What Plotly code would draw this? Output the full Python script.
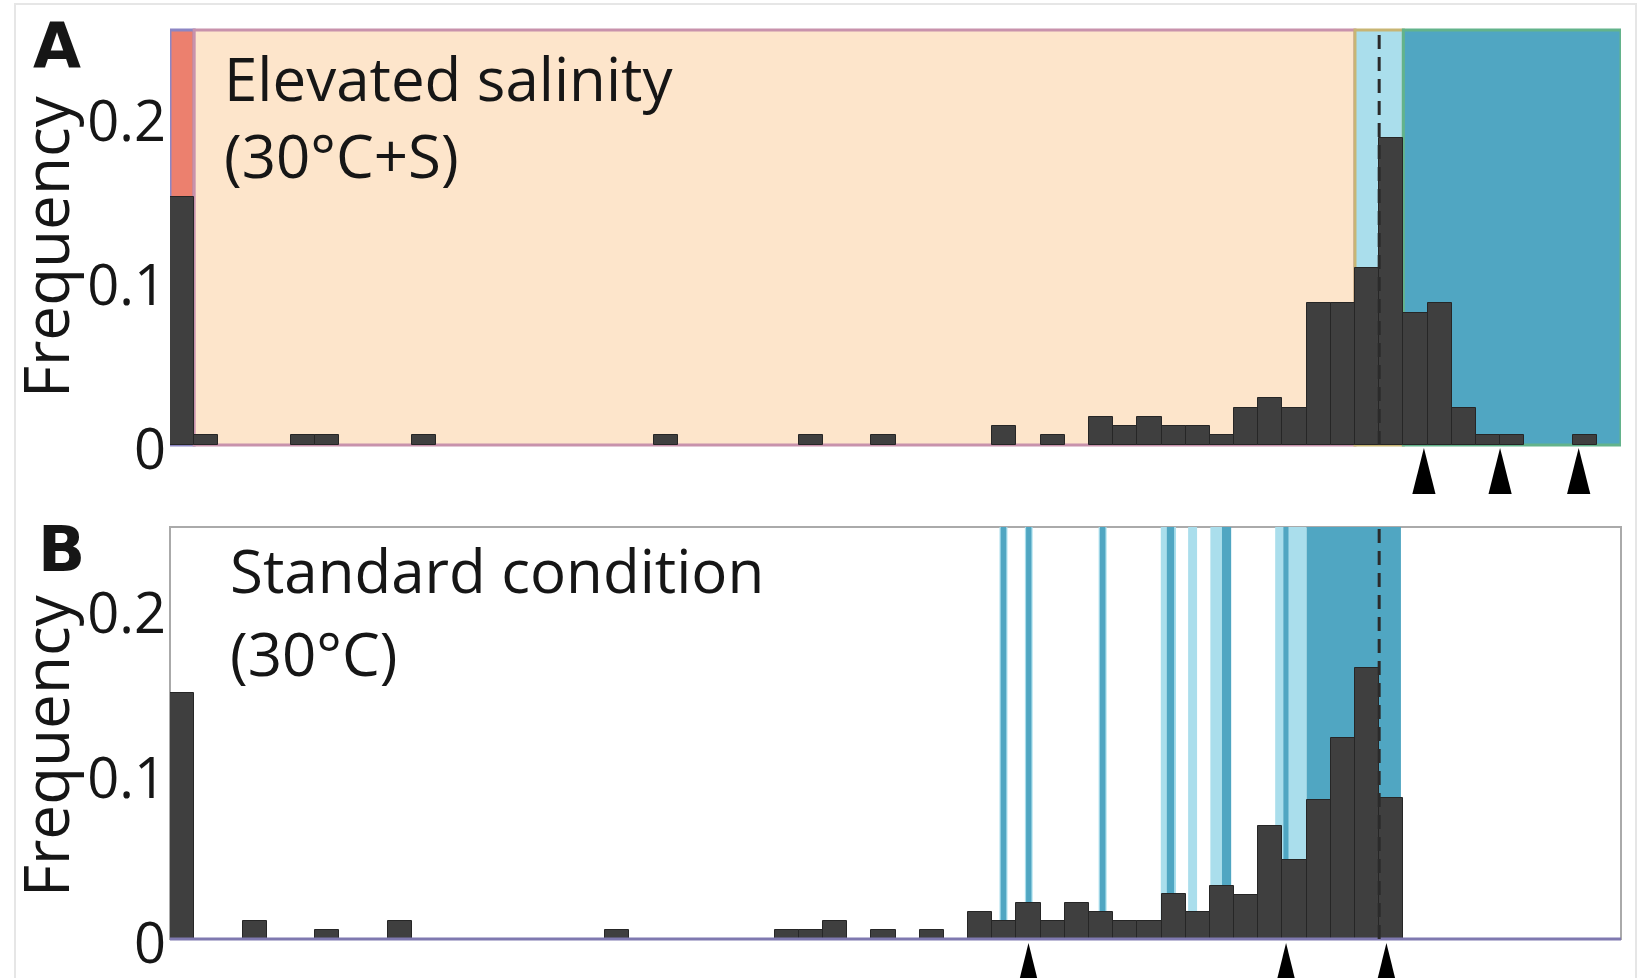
import plotly.graph_objects as go

W, H = 1642, 978

# ---------------- data ----------------
N_BINS = 60
bin_index = list(range(N_BINS))

freq_A = [0.151, 0.006, 0, 0, 0, 0.006, 0.006, 0, 0, 0,
          0.006, 0, 0, 0, 0, 0, 0, 0, 0, 0,
          0.006, 0, 0, 0, 0, 0, 0.006, 0, 0, 0.006,
          0, 0, 0, 0, 0.0114, 0, 0.006, 0, 0.017, 0.0114,
          0.017, 0.0114, 0.0114, 0.006, 0.0227, 0.0284, 0.0227, 0.0864, 0.0864, 0.1077,
          0.187, 0.0803, 0.0864, 0.0224, 0.006, 0.006, 0, 0, 0.006, 0]

freq_B = [0.149, 0, 0, 0.011, 0, 0, 0.0055, 0, 0, 0.011,
          0, 0, 0, 0, 0, 0, 0, 0, 0.0055, 0,
          0, 0, 0, 0, 0, 0.0055, 0.0055, 0.011, 0, 0.0055,
          0, 0.0055, 0, 0.0165, 0.011, 0.022, 0.011, 0.022, 0.0165, 0.011,
          0.011, 0.0275, 0.0165, 0.032, 0.027, 0.0684, 0.0481, 0.0845, 0.122, 0.1644,
          0.0856, 0, 0, 0, 0, 0, 0, 0, 0, 0]

regA_start = [0, 1, 49, 51]
regA_end = [1, 49, 51, 60]
regA_fill = ["#EC806E", "#FDE5CB", "#AADEEC", "#50A6C2"]
regA_edge = ["#8C86C4", "#C892AC", "#C8B574", "#63B38B"]

B_light_start = [34.3, 35.35, 38.4, 40.97, 42.1, 43.02, 45.7]
B_light_end = [34.63, 35.67, 38.73, 41.6, 42.47, 43.5, 47.0]
B_dark_start = [34.35, 35.4, 38.45, 41.22, 43.5, 46.04, 47.0]
B_dark_end = [34.58, 35.62, 38.68, 41.52, 43.88, 46.25, 50.9]

median_A = 50
median_B = 50
arrows_A = [51.85, 55.0, 58.25]
arrows_B = [35.5, 46.15, 50.3]

yticks = [0, 0.1, 0.2]
ytick_text = ["0", "0.1", "0.2"]

def px_x(p):
    return p / W

def px_y(p):
    return 1 - p / H

X_DOM = [px_x(170), px_x(1621)]
YA_DOM = [px_y(445), px_y(30)]
YB_DOM = [px_y(939), px_y(527)]

BAR = "#3F3F3F"
BAR_EDGE = "#262626"
DARK = "#50A6C2"
LIGHT = "#AADEEC"
TXT = "#161616"
FONT = "Open Sans"

fig = go.Figure()
centers = [i + 0.5 for i in bin_index]
fig.add_trace(go.Bar(x=centers, y=[v if v > 0 else None for v in freq_A],
                     width=1, marker=dict(color=BAR, line=dict(color=BAR_EDGE, width=1)),
                     xaxis="x", yaxis="y", showlegend=False, hoverinfo="skip"))
fig.add_trace(go.Bar(x=centers, y=[v if v > 0 else None for v in freq_B],
                     width=1, marker=dict(color=BAR, line=dict(color=BAR_EDGE, width=1)),
                     xaxis="x2", yaxis="y2", showlegend=False, hoverinfo="skip"))

shapes = []
shapes.append(dict(type="rect", xref="paper", yref="paper", x0=px_x(15), x1=px_x(1636),
                   y0=-0.02, y1=px_y(4), line=dict(color="#E6E6E6", width=2), layer="below"))
for s, e, f, c in zip(regA_start, regA_end, regA_fill, regA_edge):
    shapes.append(dict(type="rect", xref="x", yref="y domain", x0=s, x1=e, y0=0, y1=1,
                       fillcolor=f, line=dict(color=c, width=3), layer="below"))
shapes.append(dict(type="rect", xref="paper", yref="paper", x0=X_DOM[0], x1=X_DOM[1],
                   y0=YB_DOM[0], y1=YB_DOM[1], line=dict(color="#AAAAAA", width=2),
                   fillcolor="white", layer="below"))
for s, e in zip(B_light_start, B_light_end):
    shapes.append(dict(type="rect", xref="x2", yref="y2 domain", x0=s, x1=e, y0=0, y1=1,
                       fillcolor=LIGHT, line=dict(width=0), layer="below"))
for s, e in zip(B_dark_start, B_dark_end):
    shapes.append(dict(type="rect", xref="x2", yref="y2 domain", x0=s, x1=e, y0=0, y1=1,
                       fillcolor=DARK, line=dict(width=0), layer="below"))
shapes.append(dict(type="line", xref="paper", yref="paper", x0=X_DOM[0], x1=X_DOM[1],
                   y0=YB_DOM[0], y1=YB_DOM[0], line=dict(color="#7F79B0", width=3)))
shapes.append(dict(type="line", xref="x", yref="y domain", x0=median_A, x1=median_A, y0=0, y1=1,
                   line=dict(color="#2A2A2A", width=3, dash="14px,8px")))
shapes.append(dict(type="line", xref="x2", yref="y2 domain", x0=median_B, x1=median_B, y0=0, y1=1,
                   line=dict(color="#2A2A2A", width=3, dash="14px,8px")))

HW = 0.48
for xa in arrows_A:
    yt, yb = px_y(448), px_y(494)
    shapes.append(dict(type="path", xref="x", yref="paper",
                       path=f"M {xa - HW},{yb} L {xa},{yt} L {xa + HW},{yb} Z",
                       fillcolor="black", line=dict(width=0)))
for xb in arrows_B:
    yt, yb = px_y(943), px_y(990)
    shapes.append(dict(type="path", xref="x2", yref="paper",
                       path=f"M {xb - HW},{yb} L {xb},{yt} L {xb + HW},{yb} Z",
                       fillcolor="black", line=dict(width=0)))

annotations = []
def ann(text, x, y, size, xanchor="center", yanchor="middle", angle=0, bold=False, family=FONT):
    annotations.append(dict(text=text, x=x, y=y, xref="paper", yref="paper",
                            xanchor=xanchor, yanchor=yanchor, textangle=angle, showarrow=False,
                            font=dict(family=family, size=size, color=TXT,
                                      weight="bold" if bold else "normal")))

ann("A", px_x(57), px_y(46), 62, bold=True, family="DejaVu Sans")
ann("B", px_x(61), px_y(549), 62, bold=True, family="DejaVu Sans")
ann("Frequency", px_x(45), px_y(247), 62, angle=-90)
ann("Frequency", px_x(45), px_y(746), 62, angle=-90)
ann("Elevated salinity", px_x(222), px_y(101.7 - 0.388 * 60), 60, xanchor="left")
ann("(30°C+S)", px_x(222), px_y(178 - 0.388 * 60), 60, xanchor="left")
ann("Standard condition", px_x(228), px_y(593 - 0.388 * 60), 60, xanchor="left")
ann("(30°C)", px_x(228), px_y(676 - 0.388 * 60), 60, xanchor="left")

xcommon = dict(range=[0, N_BINS], domain=X_DOM, showgrid=False, zeroline=False,
               showline=False, showticklabels=False, ticks="", automargin=False)
ycommon = dict(showgrid=False, zeroline=False, showline=False, ticks="", automargin=False,
               tickvals=yticks, ticktext=ytick_text, ticklabelstandoff=3, ticklabelshift=4,
               ticklabeloverflow="allow",
               tickfont=dict(family=FONT, size=56, color=TXT))

fig.update_layout(
    width=W, height=H, autosize=False, margin=dict(l=0, r=0, t=0, b=0),
    paper_bgcolor="white", plot_bgcolor="rgba(0,0,0,0)",
    bargap=0, barmode="overlay",
    xaxis=dict(xcommon, anchor="y"),
    yaxis=dict(ycommon, domain=YA_DOM, range=[0, 0.253], anchor="x"),
    xaxis2=dict(xcommon, anchor="y2"),
    yaxis2=dict(ycommon, domain=YB_DOM, range=[0, 0.25], anchor="x2"),
    shapes=shapes, annotations=annotations,
)

fig.write_html("out.html", config={"responsive": False})
